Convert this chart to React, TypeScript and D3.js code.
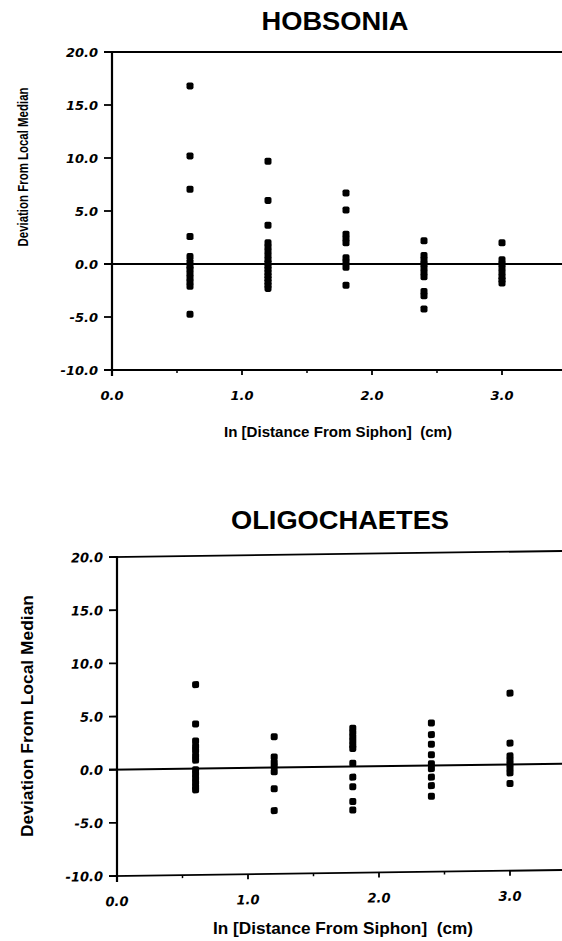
import React from 'react';
import * as d3 from 'd3';

// ln distance levels (cm) where cores were taken
const distances = [0.6, 1.2, 1.8, 2.4, 3.0];

// deviation from local median, one list per distance
const hobsonia = [
  [16.8, 10.2, 7.05, 2.6, 0.7, 0.2, -0.2, -0.5, -0.9, -1.3, -1.7, -2.1, -4.75],
  [9.7, 6.0, 3.65, 2.0, 1.6, 1.2, 0.8, 0.4, 0.1, -0.2, -0.5, -0.8, -1.1, -1.4, -1.7, -2.0, -2.3],
  [6.7, 5.1, 2.8, 2.4, 2.0, 0.6, 0.2, -0.3, -2.0],
  [2.2, 0.8, 0.4, 0.0, -0.4, -0.8, -1.2, -2.6, -3.0, -4.25],
  [2.0, 0.4, 0.0, -0.4, -0.8, -1.2, -1.5, -1.8],
];

const oligochaetes = [
  [7.9, 4.2, 2.6, 2.1, 1.7, 1.2, 0.8, -0.1, -0.5, -0.9, -1.3, -1.7, -2.0],
  [2.9, 1.0, 0.5, 0.1, -0.4, -2.0, -4.05],
  [3.6, 3.2, 2.8, 2.4, 2.0, 1.7, 0.3, -1.0, -1.9, -3.3, -4.1],
  [4.0, 2.9, 2.0, 1.0, 0.15, -0.3, -1.1, -1.9, -2.9],
  [6.7, 2.0, 0.8, 0.4, 0.0, -0.4, -0.8, -1.8],
];

const xTicks = [0, 1, 2, 3];
const xMinorTicks = [0.5, 1.5, 2.5, 3.5];
const yTicks = [-10, -5, 0, 5, 10, 15, 20];

const xTitle = 'In [Distance From Siphon]  (cm)';
const yTitle = 'Deviation From Local Median';

const W = 562;
const H = 941;
const sans = '"Liberation Sans", Arial, Helvetica, sans-serif';
const tickFont = '"DejaVu Sans", Verdana, sans-serif';

interface PanelProps {
  title: string;
  values: number[][];
  left: number;
  unit: number;
  top: number;
  bottom: number;
  skew: number;
  titleX: number;
  titleY: number;
  titleLen: number;
  yLabelX: number;
  yLabelY: number;
  yLabelSize: number;
  yLabelLen: number;
  xLabelY: number;
  xLabelSize: number;
  xLabelLen: number;
  tickSize: number;
}

const Panel: React.FC<PanelProps> = (p) => {
  const x = d3.scaleLinear().domain([0, 3]).range([p.left, p.left + 3 * p.unit]);
  const y = d3.scaleLinear().domain([-10, 20]).range([p.bottom, p.top]);
  const zeroY = y(0);
  const base = y(-10);

  const points = distances.flatMap((d, i) =>
    p.values[i].map((v) => ({ d, v }))
  );

  return (
    <g>
      <text
        x={p.titleX}
        y={p.titleY}
        textAnchor="middle"
        fontFamily={sans}
        fontWeight="bold"
        fontSize={26}
        textLength={p.titleLen}
        lengthAdjust="spacingAndGlyphs"
      >
        {p.title}
      </text>

      <g transform={`translate(${p.left},${zeroY}) skewY(${p.skew}) translate(${-p.left},${-zeroY})`}>
        {/* frame lines */}
        <line x1={p.left} x2={p.left} y1={y(20) - 1} y2={base + 6} stroke="#000" strokeWidth={2.2} />
        <line x1={p.left - 8} x2={W} y1={y(20)} y2={y(20)} stroke="#000" strokeWidth={1.8} />
        <line x1={p.left - 8} x2={W} y1={base} y2={base} stroke="#000" strokeWidth={1.8} />
        <line x1={p.left - 8} x2={W} y1={zeroY} y2={zeroY} stroke="#000" strokeWidth={2} />

        {yTicks.map((t) => (
          <g key={'y' + t}>
            <line x1={p.left - 8} x2={p.left} y1={y(t)} y2={y(t)} stroke="#000" strokeWidth={1.8} />
            <text
              x={p.left - 14}
              y={y(t) + 4.8}
              textAnchor="end"
              fontFamily={tickFont}
              fontWeight="bold"
              fontStyle="italic"
              fontSize={p.tickSize}
            >
              {t.toFixed(1)}
            </text>
          </g>
        ))}

        {xTicks.map((t) => (
          <g key={'x' + t}>
            <line x1={x(t)} x2={x(t)} y1={base} y2={base + 5} stroke="#000" strokeWidth={1.8} />
            <text
              x={x(t)}
              y={base + 30}
              textAnchor="middle"
              fontFamily={tickFont}
              fontWeight="bold"
              fontStyle="italic"
              fontSize={p.tickSize}
            >
              {t.toFixed(1)}
            </text>
          </g>
        ))}
        {xMinorTicks.map((t) => (
          <line key={'m' + t} x1={x(t)} x2={x(t)} y1={base} y2={base + 3} stroke="#000" strokeWidth={1.5} />
        ))}

        {points.map((pt, i) => (
          <rect
            key={i}
            x={x(pt.d) - 3.5}
            y={y(pt.v) - 3.5}
            width={7}
            height={7}
            rx={1.8}
            fill="#000"
          />
        ))}
      </g>

      <text
        transform={`translate(${p.yLabelX},${p.yLabelY}) rotate(-90)`}
        textAnchor="middle"
        fontFamily={sans}
        fontWeight="bold"
        fontSize={p.yLabelSize}
        textLength={p.yLabelLen}
        lengthAdjust="spacingAndGlyphs"
      >
        {yTitle}
      </text>

      <text
        x={p.titleX + 3}
        y={p.xLabelY}
        textAnchor="middle"
        fontFamily={sans}
        fontWeight="bold"
        fontSize={p.xLabelSize}
        textLength={p.xLabelLen}
        lengthAdjust="spacingAndGlyphs"
        style={{ whiteSpace: 'pre' }}
      >
        {xTitle}
      </text>
    </g>
  );
};

export default function App() {
  return (
    <div style={{ position: 'fixed', left: 0, top: 0 }}>
      <svg width={W} height={H} style={{ display: 'block', background: '#fff' }}>
        <rect width={W} height={H} fill="#fff" />
        <Panel
          title="HOBSONIA"
          values={hobsonia}
          left={112}
          unit={130}
          top={52}
          bottom={370}
          skew={0}
          titleX={335}
          titleY={30}
          titleLen={147}
          yLabelX={28}
          yLabelY={167}
          yLabelSize={15}
          yLabelLen={159}
          xLabelY={437}
          xLabelSize={15}
          xLabelLen={228}
          tickSize={13}
        />
        <Panel
          title="OLIGOCHAETES"
          values={oligochaetes}
          left={117}
          unit={131}
          top={557}
          bottom={876}
          skew={-0.77}
          titleX={340}
          titleY={529}
          titleLen={218}
          yLabelX={33}
          yLabelY={716}
          yLabelSize={17}
          yLabelLen={242}
          xLabelY={934}
          xLabelSize={17}
          xLabelLen={260}
          tickSize={13}
        />
      </svg>
    </div>
  );
}
